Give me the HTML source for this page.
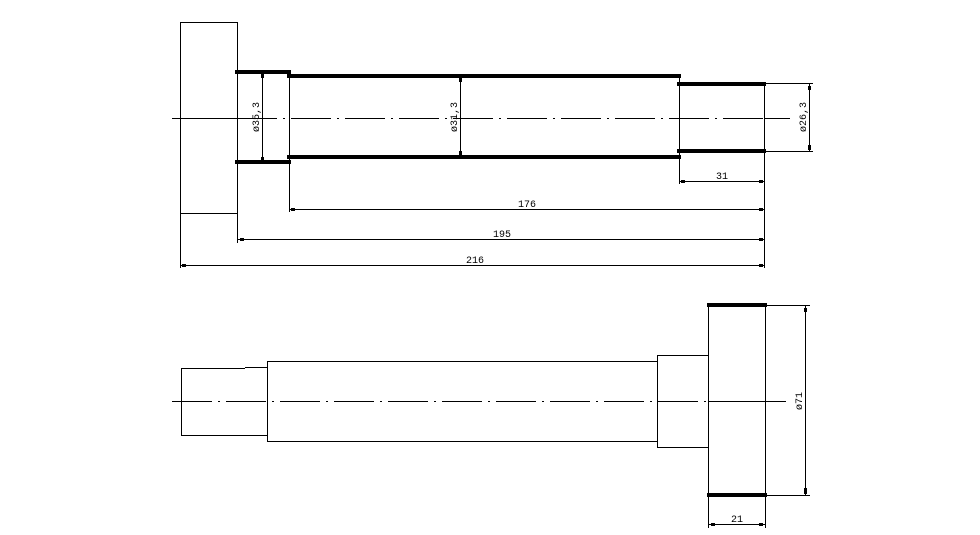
<!DOCTYPE html>
<html><head><style>html,body{margin:0;padding:0;background:#fff}svg{display:block}</style></head><body>
<svg width="980" height="535" viewBox="0 0 980 535" xmlns="http://www.w3.org/2000/svg" font-family="Liberation Mono, monospace" font-size="10">
<g stroke="#000" stroke-width="1" fill="none">
<rect x="180.5" y="22.5" width="57" height="191"/>
<line x1="180.5" y1="213" x2="180.5" y2="268"/>
<line x1="237.5" y1="72" x2="237.5" y2="243"/>
<line x1="289.5" y1="72" x2="289.5" y2="212"/>
<line x1="679.5" y1="76" x2="679.5" y2="184"/>
<line x1="764.5" y1="84" x2="764.5" y2="268"/>
<line x1="172" y1="118.5" x2="237" y2="118.5"/>
<line x1="237" y1="118.5" x2="764" y2="118.5" stroke-dasharray="40 6 2 6"/>
<line x1="764" y1="118.5" x2="790" y2="118.5"/>
<line x1="289" y1="209.5" x2="764" y2="209.5"/>
<line x1="237" y1="239.5" x2="764" y2="239.5"/>
<line x1="180" y1="265.5" x2="764" y2="265.5"/>
<line x1="679" y1="181.5" x2="764" y2="181.5"/>
<line x1="262.5" y1="72" x2="262.5" y2="162"/>
<line x1="460.5" y1="76" x2="460.5" y2="157"/>
<line x1="809.5" y1="84" x2="809.5" y2="151"/>
<line x1="764" y1="83.5" x2="813" y2="83.5"/>
<line x1="764" y1="151.5" x2="813" y2="151.5"/>
<polyline points="245,368.5 181.5,368.5 181.5,435.5 267,435.5"/>
<line x1="245" y1="367.5" x2="267" y2="367.5"/>
<rect x="267.5" y="361.5" width="390" height="80"/>
<rect x="657.5" y="355.5" width="51" height="92"/>
<rect x="708.5" y="305.5" width="57" height="190"/>
<line x1="172" y1="401.5" x2="708" y2="401.5" stroke-dasharray="40 6 2 6"/>
<line x1="708" y1="401.5" x2="786" y2="401.5"/>
<line x1="765" y1="305.5" x2="810" y2="305.5"/>
<line x1="765" y1="495.5" x2="810" y2="495.5"/>
<line x1="805.5" y1="305" x2="805.5" y2="495"/>
<line x1="708.5" y1="495" x2="708.5" y2="528"/>
<line x1="765.5" y1="495" x2="765.5" y2="528"/>
<line x1="708" y1="524.5" x2="765" y2="524.5"/>
</g>
<g stroke="#000" stroke-width="4">
<line x1="235" y1="72" x2="291" y2="72"/>
<line x1="235" y1="162" x2="291" y2="162"/>
<line x1="287" y1="76" x2="681" y2="76"/>
<line x1="287" y1="157" x2="681" y2="157"/>
<line x1="677" y1="84" x2="766" y2="84"/>
<line x1="677" y1="151" x2="766" y2="151"/>
<line x1="707" y1="305" x2="767" y2="305"/>
<line x1="707" y1="495" x2="767" y2="495"/>
</g>
<g fill="#000">
<rect x="291" y="208" width="4" height="3"/><rect x="759" y="208" width="4" height="3"/>
<rect x="240" y="238" width="4" height="3"/><rect x="759" y="238" width="4" height="3"/>
<rect x="182" y="264" width="4" height="3"/><rect x="759" y="264" width="4" height="3"/>
<rect x="681" y="180" width="4" height="3"/><rect x="759" y="180" width="4" height="3"/>
<rect x="711" y="523" width="4" height="3"/><rect x="759" y="523" width="4" height="3"/>
<rect x="261" y="74" width="3" height="4"/><rect x="261" y="157" width="3" height="4"/>
<rect x="459" y="78" width="3" height="4"/><rect x="459" y="151" width="3" height="5"/>
<rect x="808" y="86" width="3" height="4"/><rect x="808" y="145" width="3" height="5"/>
<rect x="804" y="308" width="3" height="4"/><rect x="804" y="488" width="3" height="6"/>
<text x="518" y="207">176</text>
<text x="493" y="237">195</text>
<text x="466" y="263">216</text>
<text x="716" y="179">31</text>
<text x="731" y="522">21</text>
<text transform="translate(259,117) rotate(-90)" text-anchor="middle">ø35,3</text>
<text transform="translate(457,117) rotate(-90)" text-anchor="middle">ø31,3</text>
<text transform="translate(806,117) rotate(-90)" text-anchor="middle">ø26,3</text>
<text transform="translate(802,401) rotate(-90)" text-anchor="middle">ø71</text>
</g>
</svg>
</body></html>
